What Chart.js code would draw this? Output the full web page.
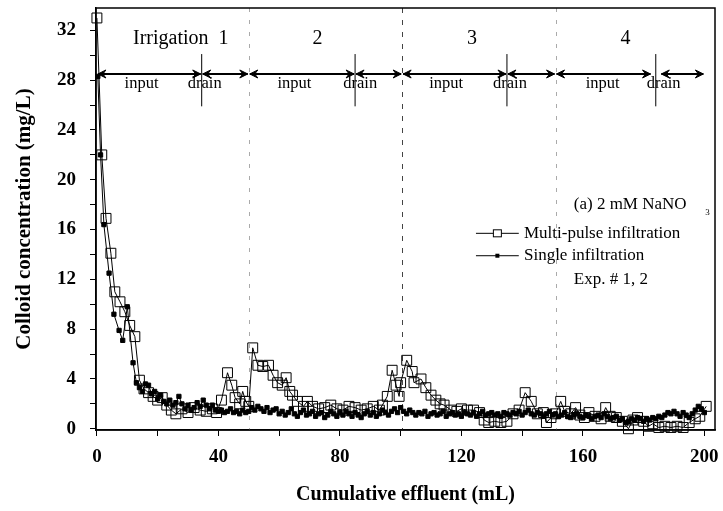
<!DOCTYPE html>
<html>
<head>
<meta charset="utf-8">
<script src="https://cdn.jsdelivr.net/npm/chart.js@4/dist/chart.umd.min.js"></script>
<style>
  html, body { margin: 0; padding: 0; background: #fff; }
  #wrap { width: 723px; height: 511px; position: relative; }
</style>
</head>
<body>
<div id="wrap"><canvas id="chart"></canvas></div>
<script>
// tick positions
const xTicks = [0, 20, 40, 60, 80, 100, 120, 140, 160, 180, 200];
const yTicks = [0, 2, 4, 6, 8, 10, 12, 14, 16, 18, 20, 22, 24, 26, 28, 30, 32];

// multi-pulse infiltration (open squares)
const multiX = [0, 1.6, 3, 4.6, 5.9, 7.6, 9.2, 10.8, 12.5, 14, 15.5, 17, 18.5, 20, 21.5, 23, 24.5, 26, 28, 30,
  32, 34, 36, 38, 39.4, 41, 43, 44.4, 45.5, 47, 48, 49, 50, 51.3, 53, 54.6, 56.5, 58, 59.5, 61,
  62.3, 63.5, 64.4, 66, 68, 69.3, 71, 73, 75, 77, 79, 81, 83, 85, 87, 89, 91, 93, 94, 95.6,
  97.2, 98.5, 99.5, 100, 102, 103.8, 104.4, 106.7, 108.3, 110, 111.6, 113, 114.3, 116.6, 118.5, 120, 122, 124, 126, 127.5,
  129, 131, 133, 135, 137, 139, 141, 143, 145, 147, 148, 149.5, 151, 152.7, 154, 156, 157.6, 159, 160.5, 162,
  164, 166, 167.5, 169, 171, 173, 175, 176.5, 178, 180, 181.6, 183, 185, 187, 189, 191, 193, 195, 197, 198.5, 200.6];
const multiY = [33, 22, 16.9, 14.1, 11, 10.2, 9.4, 8.3, 7.4, 3.9, 3.2, 2.9, 2.6, 2.3, 2.5, 1.9, 1.5, 1.2, 1.6, 1.3,
  1.7, 1.5, 1.4, 1.6, 1.3, 2.3, 4.5, 3.5, 2.5, 2.0, 3.0, 2.2, 1.8, 6.5, 5.1, 5.0, 5.1, 4.3, 3.7, 3.5,
  4.1, 3.0, 2.7, 2.2, 1.8, 2.2, 1.8, 1.6, 1.7, 1.9, 1.6, 1.5, 1.8, 1.7, 1.5, 1.6, 1.8, 1.5, 1.9, 2.6,
  4.7, 3.5, 2.6, 3.7, 5.5, 4.6, 3.7, 4.0, 3.3, 2.7, 2.3, 2.0, 1.9, 1.5, 1.4, 1.6, 1.5, 1.5, 1.3, 0.7,
  0.5, 0.6, 0.5, 0.6, 1.2, 1.5, 2.9, 2.2, 1.2, 1.3, 0.5, 0.9, 1.2, 2.2, 1.4, 1.2, 1.7, 1.1, 0.9, 1.3,
  1.0, 0.8, 1.7, 1.0, 0.9, 0.6, 0.0, 0.7, 0.9, 0.6, 0.2, 0.4, 0.1, 0.2, 0.1, 0.2, 0.1, 0.5, 0.8, 1.0, 1.8];

// single infiltration (filled squares)
const singleX = [0.3, 1.2, 2.3, 4, 5.6, 7.3, 8.5, 10, 11.9,
  13, 14, 15, 16, 17, 18, 19, 20, 21, 22, 23, 24, 25, 26, 27, 28, 29, 30, 31, 32, 33, 34, 35, 36, 37, 38, 39, 40,
  41, 42, 43, 44, 45, 46, 47, 48, 49, 50, 51, 52, 53, 54, 55, 56, 57, 58, 59, 60,
  61, 62, 63, 64, 65, 66, 67, 68, 69, 70, 71, 72, 73, 74, 75, 76, 77, 78, 79, 80,
  81, 82, 83, 84, 85, 86, 87, 88, 89, 90, 91, 92, 93, 94, 95, 96, 97, 98, 99, 100,
  101, 102, 103, 104, 105, 106, 107, 108, 109, 110, 111, 112, 113, 114, 115, 116, 117, 118, 119, 120,
  121, 122, 123, 124, 125, 126, 127, 128, 129, 130, 131, 132, 133, 134, 135, 136, 137, 138, 139, 140,
  141, 142, 143, 144, 145, 146, 147, 148, 149, 150, 151, 152, 153, 154, 155, 156, 157, 158, 159, 160,
  161, 162, 163, 164, 165, 166, 167, 168, 169, 170, 171, 172, 173, 174, 175, 176, 177, 178, 179, 180,
  181, 182, 183, 184, 185, 186, 187, 188, 189, 190, 191, 192, 193, 194, 195, 196, 197, 198, 199, 200];
const singleY = [28.3, 22, 16.4, 12.5, 9.2, 7.9, 7.1, 9.8, 5.3,
  3.7, 3.3, 3.0, 3.6, 3.5, 2.8, 3.0, 2.4, 2.7, 2.2, 2.0, 2.3, 1.9, 2.1, 2.6, 2.0, 1.6, 1.9, 1.5, 1.7, 2.1, 1.8, 2.3, 1.9, 1.6, 1.9, 1.5, 1.4,
  1.5, 1.3, 1.4, 1.6, 1.3, 1.4, 1.2, 1.5, 1.3, 1.4, 1.7, 1.5, 1.8, 1.6, 1.4, 1.7, 1.3, 1.5, 1.6, 1.2,
  1.4, 1.1, 1.3, 1.6, 1.2, 1.0, 1.3, 1.5, 1.1, 1.2, 1.4, 1.0, 1.2, 1.3, 0.9, 1.1, 1.4, 1.2, 1.0, 1.3,
  1.1, 1.4, 1.2, 1.0, 1.3, 1.1, 0.9, 1.2, 1.4, 1.1, 1.3, 1.0, 1.2, 1.5, 1.3, 1.1, 1.4, 1.6, 1.3, 1.7,
  1.4, 1.2, 1.5, 1.3, 1.1, 1.3, 1.2, 1.4, 1.0, 1.2, 1.3, 1.1, 1.2, 1.4, 1.0, 1.2, 1.3, 1.1, 1.2, 1.0,
  1.3, 1.2, 1.1, 1.3, 1.0, 1.2, 1.4, 1.1, 1.2, 1.3, 1.1, 1.2, 1.0, 1.3, 1.2, 1.1, 1.3, 1.2, 1.4, 1.1,
  1.3, 1.5, 1.2, 1.1, 1.3, 1.2, 1.0, 1.2, 1.4, 1.1, 1.2, 1.0, 1.1, 1.3, 1.0, 0.9, 1.1, 1.2, 1.0, 0.9,
  1.1, 1.0, 0.8, 1.0, 1.1, 0.9, 1.2, 1.0, 0.8, 0.9, 1.0, 0.7, 0.8, 0.5, 0.6, 0.8, 0.7, 0.9, 0.8, 0.6,
  0.8, 0.7, 0.9, 0.8, 1.0, 0.9, 1.1, 1.3, 1.2, 1.4, 1.2, 1.0, 1.3, 1.1, 0.9, 1.2, 1.5, 1.8, 1.6, 1.3];

// irrigation periods (mL)
const dividers = [50, 100.5, 151];
const arrowSpans = [[0, 34.5], [34.5, 50], [50, 85], [85, 100.5], [100.5, 135], [135, 151], [151, 182.6], [185.5, 200]];
const drainMarks = [34.5, 85, 135, 184];
const periodLabels = [['Irrigation  1', 27.6], ['2', 72.6], ['3', 123.5], ['4', 174]];
const inputLabels = [14.7, 65, 115, 166.5];
const drainLabels = [35.5, 86.7, 136, 186.6];

const SERIF = "'Liberation Serif', 'Times New Roman', serif";

function drawArrowHead(ctx, x, y, dir) {
  ctx.beginPath();
  ctx.moveTo(x, y);
  ctx.lineTo(x - dir * 8, y - 4);
  ctx.lineTo(x - dir * 5, y);
  ctx.lineTo(x - dir * 8, y + 4);
  ctx.closePath();
  ctx.fill();
  ctx.stroke();
}

const overlay = {
  id: 'overlay',
  beforeDatasetsDraw(chart) {
    const { ctx, chartArea: a, scales: { x } } = chart;
    ctx.save();
    dividers.forEach((d, i) => {
      const px = Math.round(x.getPixelForValue(d)) + 0.5;
      ctx.strokeStyle = i === 1 ? '#444' : '#aaa';
      ctx.lineWidth = 1;
      ctx.setLineDash(i === 1 ? [5, 7] : [4, 8]);
      ctx.beginPath();
      ctx.moveTo(px, a.top);
      ctx.lineTo(px, a.bottom);
      ctx.stroke();
    });
    ctx.restore();
  },
  afterDraw(chart) {
    const { ctx, chartArea: a, scales: { x, y } } = chart;
    ctx.save();
    // frame
    ctx.strokeStyle = '#000';
    ctx.lineWidth = 1.5;
    ctx.strokeRect(a.left, a.top, a.right - a.left, a.bottom - a.top);

    // arrows
    const ay = y.getPixelForValue(28.5);
    ctx.fillStyle = '#000';
    arrowSpans.forEach(([s, e]) => {
      const x1 = x.getPixelForValue(s) + 1, x2 = x.getPixelForValue(e) - 1;
      ctx.lineWidth = 2;
      ctx.beginPath();
      ctx.moveTo(x1, ay);
      ctx.lineTo(x2, ay);
      ctx.stroke();
      ctx.lineWidth = 1;
      drawArrowHead(ctx, x1, ay, -1);
      drawArrowHead(ctx, x2, ay, 1);
    });
    drainMarks.forEach(m => {
      const px = x.getPixelForValue(m);
      ctx.lineWidth = 1;
      ctx.beginPath();
      ctx.moveTo(px, y.getPixelForValue(30.1));
      ctx.lineTo(px, y.getPixelForValue(25.9));
      ctx.stroke();
    });

    // labels
    ctx.fillStyle = '#000';
    ctx.textAlign = 'center';
    ctx.textBaseline = 'middle';
    ctx.font = '20px ' + SERIF;
    periodLabels.forEach(([t, v]) => ctx.fillText(t, x.getPixelForValue(v), y.getPixelForValue(31.35)));
    ctx.font = '16.5px ' + SERIF;
    inputLabels.forEach(v => ctx.fillText('input', x.getPixelForValue(v), y.getPixelForValue(27.75)));
    drainLabels.forEach(v => ctx.fillText('drain', x.getPixelForValue(v), y.getPixelForValue(27.75)));

    // legend
    ctx.textAlign = 'left';
    ctx.font = '17px ' + SERIF;
    ctx.fillText('(a) 2 mM NaNO', x.getPixelForValue(157), y.getPixelForValue(18.0));
    ctx.font = '9px ' + SERIF;
    ctx.fillText('3', x.getPixelForValue(200.3), y.getPixelForValue(17.4));
    ctx.font = '17px ' + SERIF;
    const lx1 = x.getPixelForValue(124.8), lx2 = x.getPixelForValue(138.9);
    const ly1 = y.getPixelForValue(15.7), ly2 = y.getPixelForValue(13.9);
    ctx.lineWidth = 1;
    ctx.strokeStyle = '#000';
    ctx.beginPath(); ctx.moveTo(lx1, ly1); ctx.lineTo(lx2, ly1); ctx.stroke();
    ctx.beginPath(); ctx.moveTo(lx1, ly2); ctx.lineTo(lx2, ly2); ctx.stroke();
    const lc = (lx1 + lx2) / 2;
    ctx.fillStyle = '#fff';
    ctx.fillRect(lc - 4, ly1 - 3.5, 8, 7);
    ctx.strokeRect(lc - 4, ly1 - 3.5, 8, 7);
    ctx.fillStyle = '#000';
    ctx.fillRect(lc - 2, ly2 - 2, 4, 4);
    ctx.fillText('Multi-pulse infiltration', x.getPixelForValue(140.6), ly1);
    ctx.fillText('Single infiltration', x.getPixelForValue(140.6), ly2);
    ctx.fillText('Exp. # 1, 2', x.getPixelForValue(157), y.getPixelForValue(12.0));
    ctx.restore();
  }
};

const ctx = document.getElementById('chart').getContext('2d');
const chart = new Chart(ctx, {
  type: 'line',
  data: {
    datasets: [
      {
        label: 'Multi-pulse infiltration',
        data: multiX.map((v, i) => ({ x: v, y: multiY[i] })),
        borderColor: '#000',
        borderWidth: 1,
        pointStyle: 'rect',
        pointRadius: 7,
        pointBorderWidth: 1,
        pointBorderColor: '#000',
        pointBackgroundColor: 'rgba(0,0,0,0)',
        tension: 0,
        clip: 8
      },
      {
        label: 'Single infiltration',
        data: singleX.map((v, i) => ({ x: v, y: singleY[i] })),
        borderColor: '#000',
        borderWidth: 1,
        pointStyle: 'rect',
        pointRadius: 3,
        pointBorderWidth: 1,
        pointBorderColor: '#000',
        pointBackgroundColor: '#000',
        tension: 0,
        clip: 8
      }
    ]
  },
  options: {
    animation: false,
    responsive: true,
    maintainAspectRatio: false,
    devicePixelRatio: 1,
    layout: { padding: { left: 0, top: 7, right: 6, bottom: 0 } },
    plugins: {
      legend: { display: false },
      tooltip: { enabled: false }
    },
    scales: {
      x: {
        type: 'linear',
        min: -0.3,
        max: 203.5,
        afterBuildTicks: s => { s.ticks = xTicks.map(v => ({ value: v })); },
        afterFit: s => { s.height = 81; s.paddingLeft = 0; s.paddingRight = 0; },
        ticks: {
          autoSkip: false,
          maxRotation: 0,
          padding: 10,
          color: '#000',
          font: { family: SERIF, size: 19, weight: 'bold' },
          callback: v => (v % 40 === 0 ? v : '')
        },
        grid: { drawOnChartArea: false, drawTicks: true, tickLength: 6, tickColor: '#000', tickWidth: 1 },
        border: { color: '#000', width: 1.5 },
        title: {
          display: true,
          text: 'Cumulative effluent (mL)',
          color: '#000',
          font: { family: SERIF, size: 20, weight: 'bold' },
          padding: { top: 0, bottom: 4 }
        }
      },
      y: {
        min: -0.1,
        max: 33.8,
        afterBuildTicks: s => { s.ticks = yTicks.map(v => ({ value: v })); },
        afterFit: s => { s.width = 96; s.paddingTop = 0; s.paddingBottom = 0; },
        ticks: {
          autoSkip: false,
          padding: 14,
          color: '#000',
          font: { family: SERIF, size: 19, weight: 'bold' },
          callback: v => (v % 4 === 0 ? v : '')
        },
        grid: { drawOnChartArea: false, drawTicks: true, tickLength: 6, tickColor: '#000', tickWidth: 1 },
        border: { color: '#000', width: 1.5 },
        title: {
          display: true,
          text: 'Colloid concentration (mg/L)',
          color: '#000',
          font: { family: SERIF, size: 21, weight: 'bold' },
          padding: { top: 12, bottom: 0 }
        }
      }
    }
  },
  plugins: [overlay]
});
</script>
</body>
</html>
